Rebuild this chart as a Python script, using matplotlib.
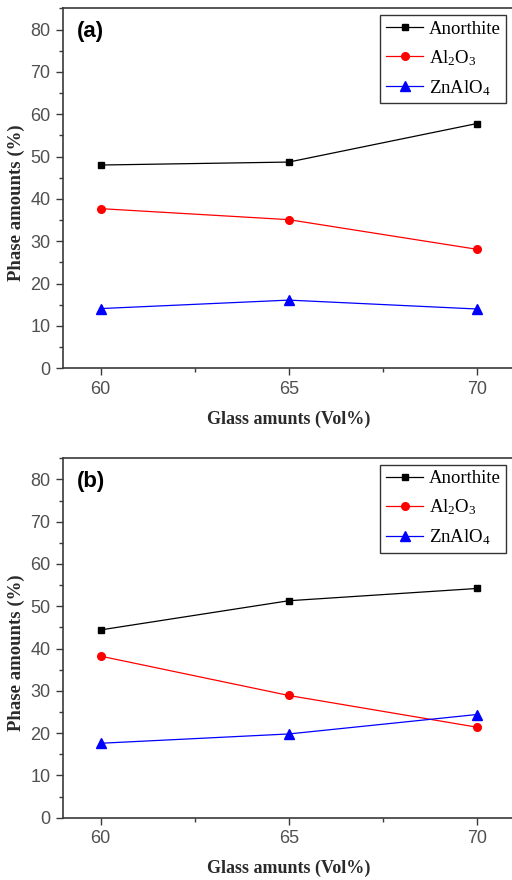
import matplotlib
matplotlib.use("Agg")
import matplotlib.pyplot as plt
from matplotlib.ticker import MultipleLocator

# glass amounts (Vol%)
glass = [60, 65, 70]

# panel (a)
anorthite_a = [48.0, 48.7, 57.8]
al2o3_a = [37.7, 35.1, 28.1]
znalo4_a = [14.1, 16.1, 14.0]

# panel (b)
anorthite_b = [44.4, 51.3, 54.2]
al2o3_b = [38.2, 28.9, 21.4]
znalo4_b = [17.6, 19.8, 24.4]

labels = ["Anorthite", r"$\mathregular{Al_2O_3}$", r"$\mathregular{ZnAlO_4}$"]
panel_names = ["(a)", "(b)"]

plt.rcParams['mathtext.fontset'] = 'custom'
plt.rcParams['mathtext.rm'] = 'Liberation Serif'

SPINE = "#3a3a3a"
TICK = "#505050"


def draw_panel(ax, series, name):
    styles = [("black", "s", 5), ("red", "o", 5.5), ("blue", "^", 6.5)]
    for vals, lab, (col, mk, ms) in zip(series, labels, styles):
        ax.plot(glass, vals, color=col, marker=mk, markersize=ms, linewidth=0.9, label=lab)

    ax.set_xlim(59, 71)
    ax.set_ylim(0, 85)
    ax.xaxis.set_major_locator(MultipleLocator(5))
    ax.xaxis.set_minor_locator(MultipleLocator(2.5))
    ax.yaxis.set_major_locator(MultipleLocator(10))
    ax.yaxis.set_minor_locator(MultipleLocator(5))
    ax.tick_params(which="major", direction="out", length=5, width=1, color=SPINE,
                   labelsize=13, labelcolor=TICK, pad=4)
    ax.tick_params(which="minor", direction="out", length=3, width=1, color=SPINE)
    for lbl in ax.get_xticklabels() + ax.get_yticklabels():
        lbl.set_family("Liberation Sans")
    for s in ax.spines.values():
        s.set_color(SPINE)
        s.set_linewidth(1.2)

    ax.set_xlabel("Glass amunts (Vol%)", family="Liberation Serif", fontweight="bold",
                  fontsize=13, color="#2a2a2a", labelpad=9)
    ax.set_ylabel("Phase amounts (%)", family="Liberation Serif", fontweight="bold",
                  fontsize=13.5, color="#2a2a2a")
    ax.yaxis.set_label_coords(-0.084, 0.46)
    ax.text(0.03, 0.965, name, transform=ax.transAxes, family="Liberation Sans",
            fontweight="bold", fontsize=16, va="top", ha="left")

    leg = ax.legend(loc="upper right", bbox_to_anchor=(0.982, 0.982), borderaxespad=0,
                    fancybox=False, edgecolor="#333333", framealpha=1, handlelength=2.0,
                    borderpad=0.3, labelspacing=0.55, handletextpad=0.3,
                    prop={"family": "Liberation Serif", "size": 13.5})
    leg.get_frame().set_linewidth(1.0)


fig = plt.figure(figsize=(5.12, 8.8), dpi=100)
ax_a = fig.add_axes([0.123, 0.5815, 0.882, 0.409])
ax_b = fig.add_axes([0.123, 0.0708, 0.882, 0.4085])

draw_panel(ax_a, [anorthite_a, al2o3_a, znalo4_a], panel_names[0])
draw_panel(ax_b, [anorthite_b, al2o3_b, znalo4_b], panel_names[1])

fig.savefig("out.png", dpi=100)
